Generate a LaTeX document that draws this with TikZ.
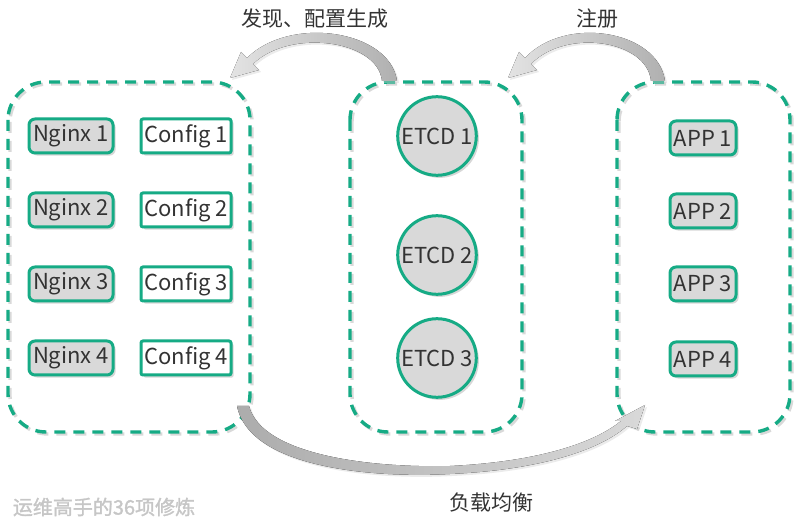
\documentclass[tikz,border=0pt]{standalone}
\usepackage{fontspec}
\setmainfont{Noto Sans CJK SC}
\newfontfamily\markfont[FakeBold=1.5]{Noto Sans CJK SC}
\usetikzlibrary{shadows}
\definecolor{etcdgreen}{HTML}{16AB85}
\definecolor{boxgray}{HTML}{D9D9D9}
\definecolor{textgray}{HTML}{333333}

\tikzset{
  boxbase/.style={draw=etcdgreen, line width=1.5pt, text=textgray,
    font=\fontsize{11}{13}\selectfont, inner sep=1pt,
    drop shadow={shadow xshift=1.3pt, shadow yshift=-1.3pt, fill=gray!70, opacity=0.45}},
  nginx/.style={boxbase, fill=boxgray, rounded corners=3pt, minimum width=42pt, minimum height=17pt},
  config/.style={boxbase, fill=white, rounded corners=1pt, minimum width=45pt, minimum height=17pt},
  app/.style={boxbase, fill=boxgray, rounded corners=3pt, minimum width=33pt, minimum height=17pt},
  etcd/.style={boxbase, circle, fill=boxgray, minimum size=39pt},
  groupbox/.style={draw=etcdgreen, line width=1.7pt, dash pattern=on 5.5pt off 4pt, rounded corners=19pt},
  groupshadow/.style={groupbox, draw=gray!30},
  flowlabel/.style={text=textgray, font=\fontsize{10.5}{12}\selectfont},
  bigarrow/.style={drop shadow={shadow xshift=1pt, shadow yshift=-1pt, fill=gray!40, opacity=0.4}}
}

\begin{document}
\begin{tikzpicture}[x=0.5pt, y=-0.5pt]
  \useasboundingbox (0,0) rectangle (799,529);
  % Dashed groups with their shadows
  \draw[groupshadow] (10,84) rectangle (252,434);
  \draw[groupshadow] (352,84) rectangle (524,434);
  \draw[groupshadow] (619,84) rectangle (792,434);
  \draw[groupbox] (8,82) rectangle (250,432);
  \draw[groupbox] (350,82) rectangle (522,432);
  \draw[groupbox] (617,82) rectangle (790,432);
  % Nginx, config and app boxes
  \foreach \y [count=\i] in {136,210,284,358} {
    \node[nginx] (nginx\i) at (71,\y) {Nginx \i};
    \node[config] (config\i) at (186,\y) {Config \i};
  }
  \foreach \y [count=\i] in {138,211,284,359} {
    \node[app] (app\i) at (703,\y) {APP \i};
  }
  % ETCD cluster
  \node[etcd] (etcd1) at (437,136) {ETCD 1};
  \node[etcd] (etcd2) at (437,255) {ETCD 2};
  \node[etcd] (etcd3) at (437,358) {ETCD 3};
  % Curved arrows
  \fill[bigarrow, left color=gray!22, right color=gray!62]
    (397,81) .. controls (390,30) and (290,15) .. (247,58)
    -- (241,52) -- (230,78) -- (259,70) -- (253,64)
    .. controls (290,28) and (378,40) .. (382,81) -- cycle;
  \fill[bigarrow, left color=gray!22, right color=gray!62]
    (665,81) .. controls (658,30) and (565,15) .. (525,58)
    -- (519,52) -- (508,78) -- (537,70) -- (531,64)
    .. controls (566,28) and (647,40) .. (651,81) -- cycle;
  \fill[bigarrow, left color=gray!65, middle color=gray!8, right color=gray!30]
    (237,406) .. controls (250,470) and (380,478) .. (450,474)
    .. controls (540,470) and (600,450) .. (627,426)
    -- (637,429) -- (645,405) -- (615,421) -- (621,421)
    .. controls (590,446) and (530,462) .. (450,466)
    .. controls (370,468) and (262,455) .. (249,406) -- cycle;
  % Labels
  \node[flowlabel] (discover) at (315,19) {发现、配置生成};
  \node[flowlabel] (register) at (597,19) {注册};
  \node[flowlabel] (balance) at (491,503) {负载均衡};
  \node[text=gray!45, font=\markfont\fontsize{10}{12}\selectfont] (mark) at (104,507) {运维高手的36项修炼};
\end{tikzpicture}
\end{document}
